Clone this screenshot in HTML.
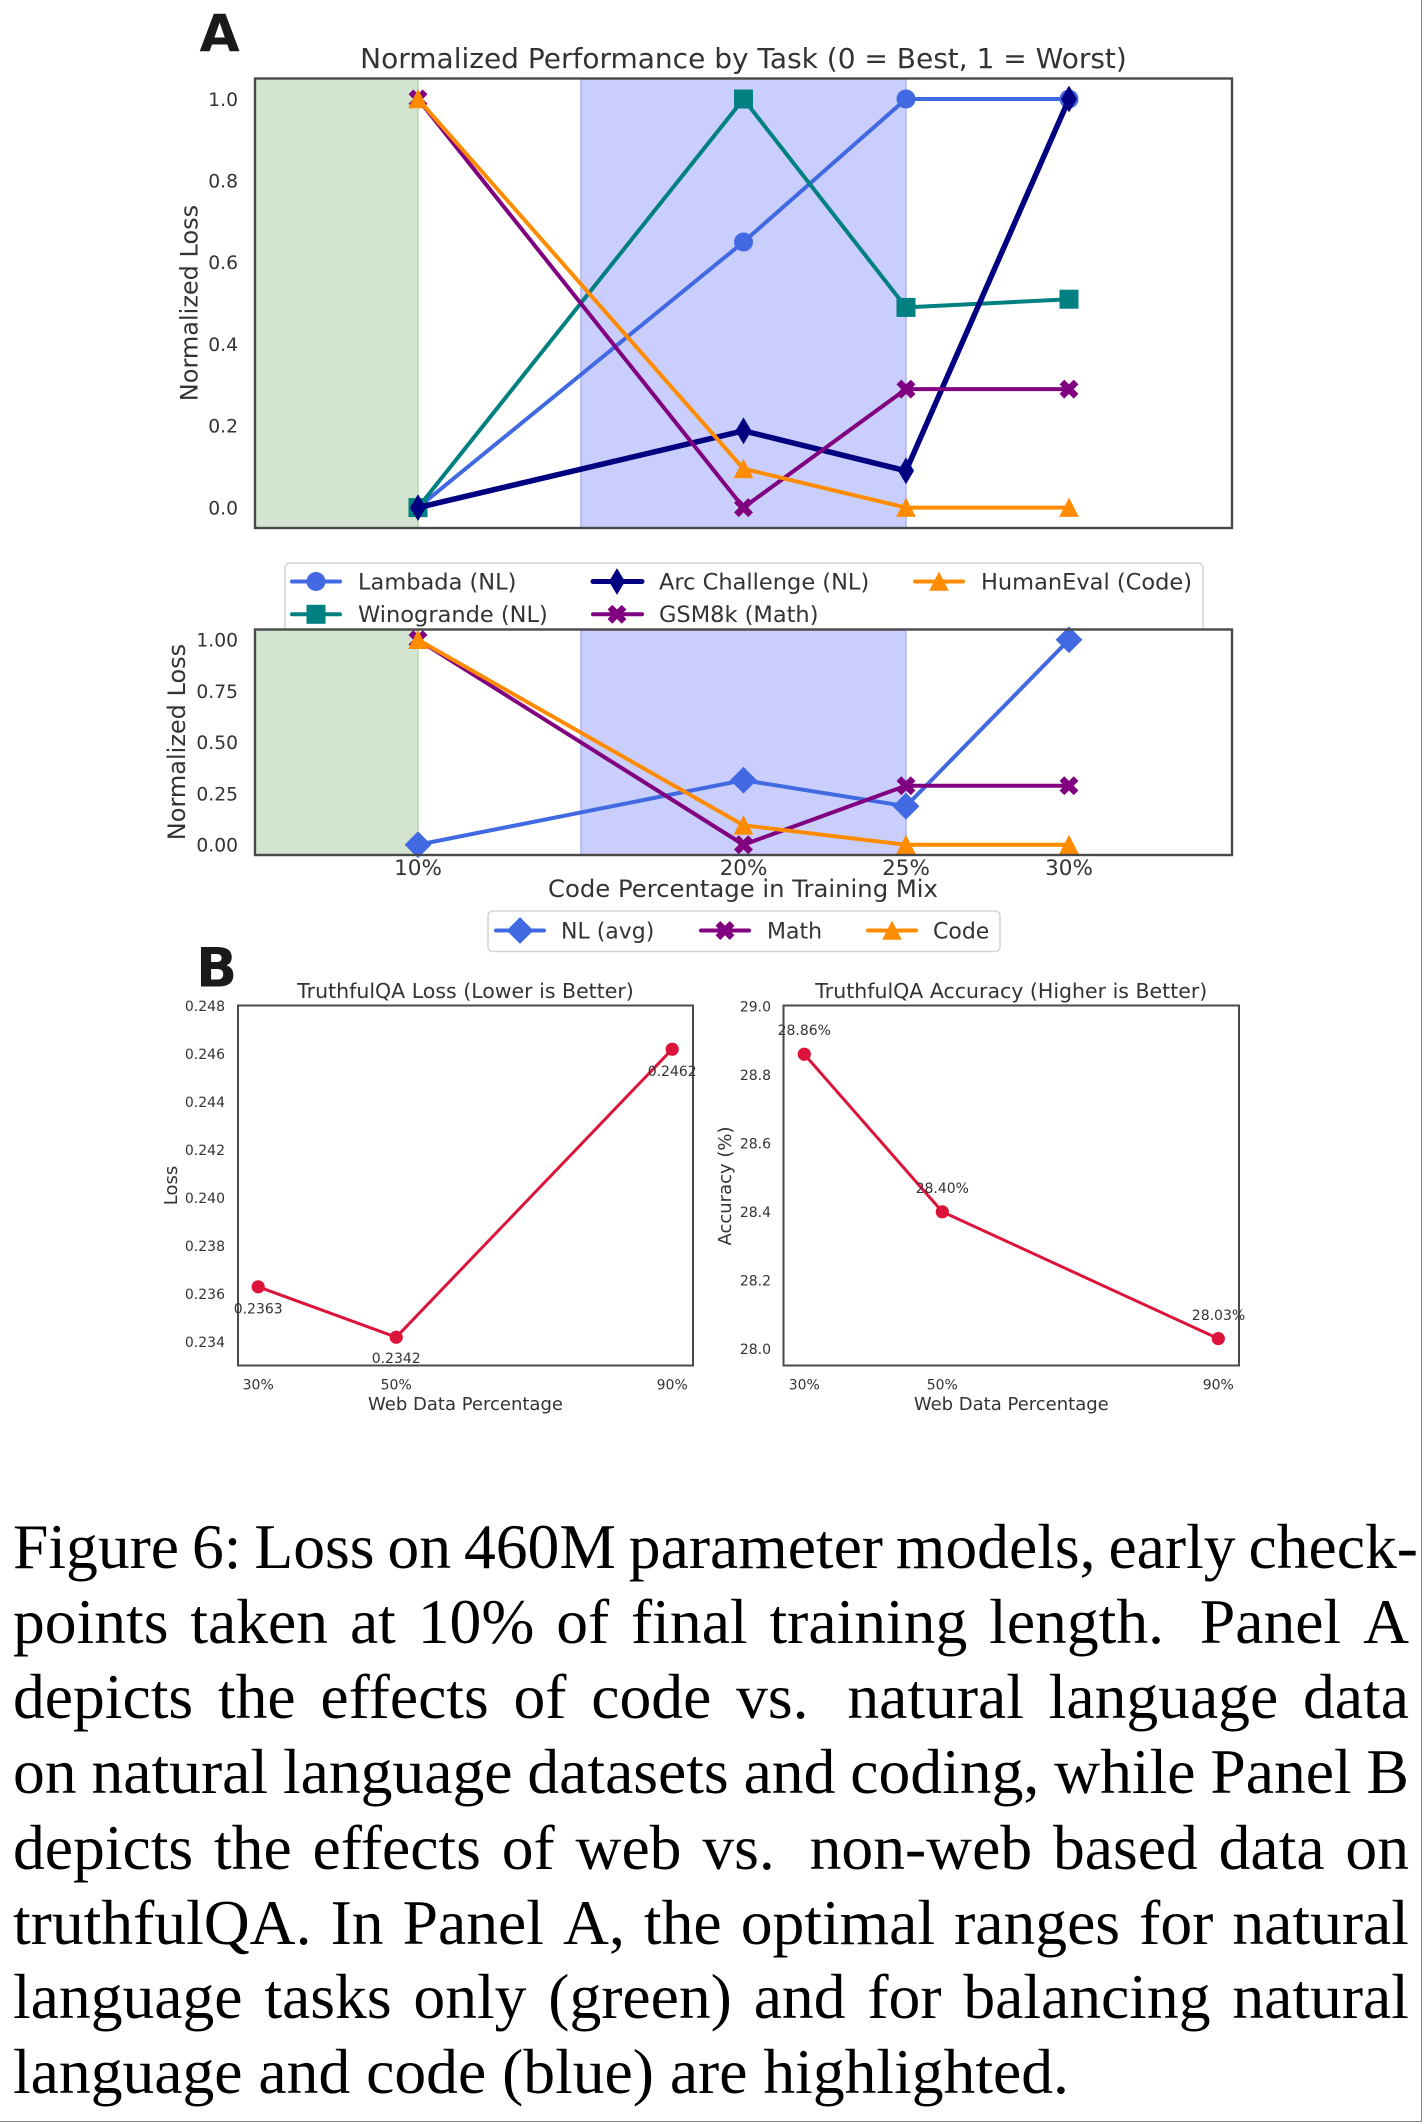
<!DOCTYPE html>
<html>
<head>
<meta charset="utf-8">
<style>
  html,body{margin:0;padding:0;background:#fff;}
  body{width:1424px;height:2124px;position:relative;overflow:hidden;}
  .cap{position:absolute;left:13px;font-family:"Liberation Serif","Times New Roman",serif;font-size:63.6px;line-height:75px;color:#000;white-space:nowrap;}
  .j{display:flex;justify-content:space-between;width:1396px;}
  .j1{width:1405px;}
  .sp{margin-right:14px;}
</style>
</head>
<body>
<svg width="1424" height="1440" viewBox="0 0 1424 1440" style="position:absolute;left:0;top:0" font-family="'DejaVu Sans','Liberation Sans',sans-serif">
  <defs>
    <marker id="mLam" markerUnits="userSpaceOnUse" markerWidth="30" markerHeight="30" viewBox="-15 -15 30 30" refX="0" refY="0" overflow="visible"><circle r="9.5" fill="#4169e1"/></marker>
    <marker id="mWin" markerUnits="userSpaceOnUse" markerWidth="30" markerHeight="30" viewBox="-15 -15 30 30" refX="0" refY="0" overflow="visible"><rect x="-9.5" y="-9.5" width="19" height="19" fill="#008080"/></marker>
    <marker id="mArc" markerUnits="userSpaceOnUse" markerWidth="30" markerHeight="30" viewBox="-15 -15 30 30" refX="0" refY="0" overflow="visible"><polygon points="0,-13.4 8,0 0,13.4 -8,0" fill="#000080"/></marker>
    <marker id="mGsm" markerUnits="userSpaceOnUse" markerWidth="30" markerHeight="30" viewBox="-15 -15 30 30" refX="0" refY="0" overflow="visible"><polygon transform="rotate(45)" points="-3.35,-10.05 3.35,-10.05 3.35,-3.35 10.05,-3.35 10.05,3.35 3.35,3.35 3.35,10.05 -3.35,10.05 -3.35,3.35 -10.05,3.35 -10.05,-3.35 -3.35,-3.35" fill="#800080"/></marker>
    <marker id="mHum" markerUnits="userSpaceOnUse" markerWidth="30" markerHeight="30" viewBox="-15 -15 30 30" refX="0" refY="0" overflow="visible"><polygon points="0,-10 -9.8,9.3 9.8,9.3" fill="#ff8c00"/></marker>
    <marker id="mNL" markerUnits="userSpaceOnUse" markerWidth="30" markerHeight="30" viewBox="-15 -15 30 30" refX="0" refY="0" overflow="visible"><polygon points="0,-13.4 13.4,0 0,13.4 -13.4,0" fill="#4169e1"/></marker>
    <marker id="mRed" markerUnits="userSpaceOnUse" markerWidth="20" markerHeight="20" viewBox="-10 -10 20 20" refX="0" refY="0" overflow="visible"><circle r="6.6" fill="#dc143c"/></marker>
  </defs>

  <!-- ===== Panel A label ===== -->
  <text x="199.5" y="51.6" font-size="52" font-weight="bold" fill="#1a1a1a">A</text>

  <!-- ===== Chart A1 ===== -->
  <text x="743.5" y="68" font-size="28" fill="#333" text-anchor="middle">Normalized Performance by Task (0 = Best, 1 = Worst)</text>
  <rect x="255" y="78.5" width="977" height="449.5" fill="#fff"/>
  <rect x="255" y="78.5" width="163" height="449.5" fill="#d3e5d0"/>
  <line x1="418" y1="78.5" x2="418" y2="528" stroke="#b8d6b4" stroke-width="1.5"/>
  <rect x="581" y="78.5" width="325" height="449.5" fill="#c9cefc"/>
  <line x1="581" y1="78.5" x2="581" y2="528" stroke="#aab4f6" stroke-width="1.5"/>
  <line x1="906" y1="78.5" x2="906" y2="528" stroke="#aab4f6" stroke-width="1.5"/>

  <g fill="none" stroke-linejoin="round" stroke-linecap="round">
    <polyline points="418,507.6 743.5,242 906,99 1069,99" stroke="#4169e1" stroke-width="4" marker-start="url(#mLam)" marker-mid="url(#mLam)" marker-end="url(#mLam)"/>
    <polyline points="418,507.6 743.5,99 906,307.4 1069,299.2" stroke="#008080" stroke-width="4" marker-start="url(#mWin)" marker-mid="url(#mWin)" marker-end="url(#mWin)"/>
    <polyline points="418,507.6 743.5,430.8 906,470.8 1069,99" stroke="#000080" stroke-width="5.5" marker-start="url(#mArc)" marker-mid="url(#mArc)" marker-end="url(#mArc)"/>
    <polyline points="418,99 743.5,507.6 906,389.1 1069,389.1" stroke="#800080" stroke-width="4" marker-start="url(#mGsm)" marker-mid="url(#mGsm)" marker-end="url(#mGsm)"/>
    <polyline points="418,99 743.5,468.8 906,507.6 1069,507.6" stroke="#ff8c00" stroke-width="4" marker-start="url(#mHum)" marker-mid="url(#mHum)" marker-end="url(#mHum)"/>
  </g>
  <rect x="255" y="78.5" width="977" height="449.5" fill="none" stroke="#4a4a4a" stroke-width="2.4"/>

  <g font-size="18.7" fill="#333" text-anchor="end">
    <text x="238" y="514.4">0.0</text>
    <text x="238" y="432.7">0.2</text>
    <text x="238" y="350.9">0.4</text>
    <text x="238" y="269.2">0.6</text>
    <text x="238" y="187.5">0.8</text>
    <text x="238" y="105.8">1.0</text>
  </g>
  <text transform="translate(197.5,303) rotate(-90)" font-size="24" fill="#333" text-anchor="middle">Normalized Loss</text>

  <!-- ===== Legend 1 ===== -->
  <rect x="285" y="563" width="918" height="90" rx="5" fill="#fff" stroke="#d4d4d4" stroke-width="1.5"/>
  <g fill="none" stroke-width="4" stroke-linecap="round">
    <polyline points="292,581.5 316,581.5 340,581.5" stroke="#4169e1" marker-mid="url(#mLam)"/>
    <polyline points="292,614.3 316,614.3 340,614.3" stroke="#008080" marker-mid="url(#mWin)"/>
    <polyline points="593,581.5 617,581.5 642,581.5" stroke="#000080" stroke-width="5" marker-mid="url(#mArc)"/>
    <polyline points="593,614.3 617,614.3 642,614.3" stroke="#800080" marker-mid="url(#mGsm)"/>
    <polyline points="915,581.5 939,581.5 963,581.5" stroke="#ff8c00" marker-mid="url(#mHum)"/>
  </g>
  <g font-size="22.5" fill="#333">
    <text x="358" y="589.3">Lambada (NL)</text>
    <text x="358" y="622">Winogrande (NL)</text>
    <text x="659" y="589.3">Arc Challenge (NL)</text>
    <text x="659" y="622">GSM8k (Math)</text>
    <text x="981" y="589.3">HumanEval (Code)</text>
  </g>

  <!-- ===== Chart A2 ===== -->
  <rect x="255" y="629.5" width="977" height="225.5" fill="#fff"/>
  <rect x="255" y="629.5" width="163" height="225.5" fill="#d3e5d0"/>
  <line x1="418" y1="629.5" x2="418" y2="855" stroke="#b8d6b4" stroke-width="1.5"/>
  <rect x="581" y="629.5" width="325" height="225.5" fill="#c9cefc"/>
  <line x1="581" y1="629.5" x2="581" y2="855" stroke="#aab4f6" stroke-width="1.5"/>
  <line x1="906" y1="629.5" x2="906" y2="855" stroke="#aab4f6" stroke-width="1.5"/>

  <g fill="none" stroke-linejoin="round" stroke-linecap="round" stroke-width="4">
    <polyline points="418,844.75 743.5,780.2 906,806.2 1069,639.75" stroke="#4169e1" marker-start="url(#mNL)" marker-mid="url(#mNL)" marker-end="url(#mNL)"/>
    <polyline points="418,639.75 743.5,844.75 906,785.7 1069,785.7" stroke="#800080" marker-start="url(#mGsm)" marker-mid="url(#mGsm)" marker-end="url(#mGsm)"/>
    <polyline points="418,639.75 743.5,825.3 906,844.75 1069,844.75" stroke="#ff8c00" marker-start="url(#mHum)" marker-mid="url(#mHum)" marker-end="url(#mHum)"/>
  </g>
  <rect x="255" y="629.5" width="977" height="225.5" fill="none" stroke="#4a4a4a" stroke-width="2.4"/>

  <g font-size="18.7" fill="#333" text-anchor="end">
    <text x="238" y="851.5">0.00</text>
    <text x="238" y="800.3">0.25</text>
    <text x="238" y="749">0.50</text>
    <text x="238" y="697.8">0.75</text>
    <text x="238" y="646.5">1.00</text>
  </g>
  <g font-size="21.5" fill="#333" text-anchor="middle">
    <text x="418" y="875">10%</text>
    <text x="743.5" y="875">20%</text>
    <text x="906" y="875">25%</text>
    <text x="1069" y="875">30%</text>
  </g>
  <text x="743" y="897" font-size="24.3" fill="#333" text-anchor="middle">Code Percentage in Training Mix</text>
  <text transform="translate(185,742) rotate(-90)" font-size="24" fill="#333" text-anchor="middle">Normalized Loss</text>

  <!-- ===== Legend 2 ===== -->
  <rect x="488" y="911" width="512" height="40.5" rx="5" fill="#fff" stroke="#d4d4d4" stroke-width="1.5"/>
  <g fill="none" stroke-width="4" stroke-linecap="round">
    <polyline points="496,930.5 520,930.5 544,930.5" stroke="#4169e1" marker-mid="url(#mNL)"/>
    <polyline points="701,930.5 725,930.5 749,930.5" stroke="#800080" marker-mid="url(#mGsm)"/>
    <polyline points="868,930.5 892,930.5 916,930.5" stroke="#ff8c00" marker-mid="url(#mHum)"/>
  </g>
  <g font-size="22" fill="#333">
    <text x="561" y="938.5">NL (avg)</text>
    <text x="767" y="938.5">Math</text>
    <text x="933" y="938.5">Code</text>
  </g>

  <!-- ===== Panel B label ===== -->
  <text x="196" y="986.3" font-size="54" font-weight="bold" fill="#1a1a1a">B</text>

  <!-- ===== Chart B1 ===== -->
  <text x="465.5" y="998" font-size="20.5" fill="#333" text-anchor="middle">TruthfulQA Loss (Lower is Better)</text>
  <rect x="238" y="1005.5" width="455" height="360" fill="#fff"/>
  <polyline points="258.2,1286.8 396.2,1337.2 672.2,1049.2" fill="none" stroke="#dc143c" stroke-width="3" stroke-linejoin="round" marker-start="url(#mRed)" marker-mid="url(#mRed)" marker-end="url(#mRed)"/>
  <rect x="238" y="1005.5" width="455" height="360" fill="none" stroke="#4a4a4a" stroke-width="2"/>
  <g font-size="14" fill="#333" text-anchor="end">
    <text x="225" y="1347.1">0.234</text>
    <text x="225" y="1299.1">0.236</text>
    <text x="225" y="1251.1">0.238</text>
    <text x="225" y="1203.1">0.240</text>
    <text x="225" y="1155.1">0.242</text>
    <text x="225" y="1107.1">0.244</text>
    <text x="225" y="1059.1">0.246</text>
    <text x="225" y="1011.1">0.248</text>
  </g>
  <g font-size="14" fill="#333" text-anchor="middle">
    <text x="258.2" y="1389.5">30%</text>
    <text x="396.2" y="1389.5">50%</text>
    <text x="672.2" y="1389.5">90%</text>
    <text x="258.2" y="1313.3">0.2363</text>
    <text x="396.2" y="1363">0.2342</text>
    <text x="672.2" y="1076">0.2462</text>
  </g>
  <text x="465.5" y="1410" font-size="18" fill="#333" text-anchor="middle">Web Data Percentage</text>
  <text transform="translate(176.8,1185.5) rotate(-90)" font-size="18" fill="#333" text-anchor="middle">Loss</text>

  <!-- ===== Chart B2 ===== -->
  <text x="1011.3" y="998" font-size="20.5" fill="#333" text-anchor="middle">TruthfulQA Accuracy (Higher is Better)</text>
  <rect x="783.5" y="1005.5" width="455.5" height="360" fill="#fff"/>
  <polyline points="804.3,1054.2 942.3,1211.8 1218.3,1338.6" fill="none" stroke="#dc143c" stroke-width="3" stroke-linejoin="round" marker-start="url(#mRed)" marker-mid="url(#mRed)" marker-end="url(#mRed)"/>
  <rect x="783.5" y="1005.5" width="455.5" height="360" fill="none" stroke="#4a4a4a" stroke-width="2"/>
  <g font-size="14" fill="#333" text-anchor="end">
    <text x="771" y="1354">28.0</text>
    <text x="771" y="1285.5">28.2</text>
    <text x="771" y="1216.9">28.4</text>
    <text x="771" y="1148.4">28.6</text>
    <text x="771" y="1079.9">28.8</text>
    <text x="771" y="1011.6">29.0</text>
  </g>
  <g font-size="14" fill="#333" text-anchor="middle">
    <text x="804.3" y="1389.5">30%</text>
    <text x="942.3" y="1389.5">50%</text>
    <text x="1218.3" y="1389.5">90%</text>
    <text x="804.3" y="1035">28.86%</text>
    <text x="942.3" y="1192.8">28.40%</text>
    <text x="1218.5" y="1320">28.03%</text>
  </g>
  <text x="1011.3" y="1410" font-size="18" fill="#333" text-anchor="middle">Web Data Percentage</text>
  <text transform="translate(731,1186) rotate(-90)" font-size="18" fill="#333" text-anchor="middle">Accuracy (%)</text>
</svg>

<!-- ===== Caption ===== -->
<div class="cap j j1" style="top:1508.8px"><span>Figure</span><span>6:</span><span>Loss</span><span>on</span><span>460M</span><span>parameter</span><span>models,</span><span>early</span><span>check-</span></div>
<div class="cap j" style="top:1583.8px"><span>points</span><span>taken</span><span>at</span><span>10%</span><span>of</span><span>final</span><span>training</span><span class="sp">length.</span><span>Panel</span><span>A</span></div>
<div class="cap j" style="top:1659px"><span>depicts</span><span>the</span><span>effects</span><span>of</span><span>code</span><span class="sp">vs.</span><span>natural</span><span>language</span><span>data</span></div>
<div class="cap j" style="top:1734px"><span>on</span><span>natural</span><span>language</span><span>datasets</span><span>and</span><span>coding,</span><span>while</span><span>Panel</span><span>B</span></div>
<div class="cap j" style="top:1809.6px"><span>depicts</span><span>the</span><span>effects</span><span>of</span><span>web</span><span class="sp">vs.</span><span>non-web</span><span>based</span><span>data</span><span>on</span></div>
<div class="cap j" style="top:1884.6px"><span>truthfulQA.</span><span>In</span><span>Panel</span><span>A,</span><span>the</span><span>optimal</span><span>ranges</span><span>for</span><span>natural</span></div>
<div class="cap j" style="top:1958.7px"><span>language</span><span>tasks</span><span>only</span><span>(green)</span><span>and</span><span>for</span><span>balancing</span><span>natural</span></div>
<div class="cap" style="top:2034px">language and code (blue) are highlighted.</div>

<!-- border lines (right & bottom) -->
<div style="position:absolute;left:1420.5px;top:0;width:1.5px;height:2122px;background:#8a8a8a"></div>
<div style="position:absolute;left:0;top:2120.5px;width:1422px;height:1.5px;background:#8a8a8a"></div>
</body>
</html>
